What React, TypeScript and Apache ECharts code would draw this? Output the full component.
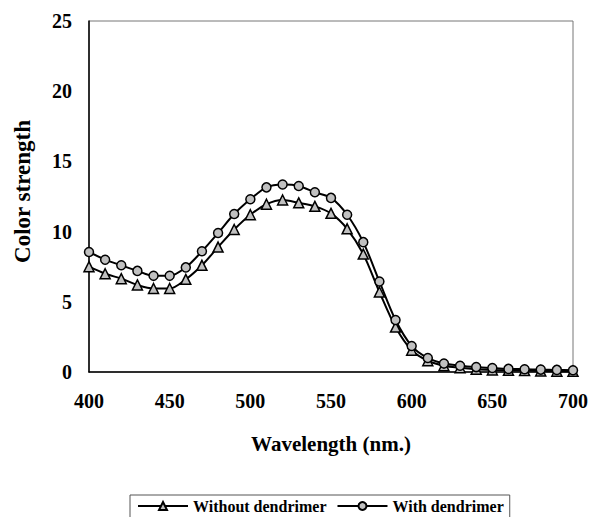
import React, { useEffect, useRef } from "react";
import * as echarts from "echarts";

const wavelengths = [400, 410, 420, 430, 440, 450, 460, 470, 480, 490, 500, 510, 520, 530, 540, 550, 560, 570, 580, 590, 600, 610, 620, 630, 640, 650, 660, 670, 680, 690, 700];
const withoutDendrimer = [7.5, 7.0, 6.65, 6.2, 5.95, 5.95, 6.6, 7.6, 8.9, 10.15, 11.2, 11.95, 12.25, 12.05, 11.8, 11.3, 10.2, 8.4, 5.7, 3.2, 1.55, 0.8, 0.45, 0.3, 0.2, 0.15, 0.12, 0.1, 0.08, 0.06, 0.05];
const withDendrimer = [8.55, 8.0, 7.6, 7.2, 6.85, 6.85, 7.45, 8.6, 9.9, 11.25, 12.3, 13.15, 13.35, 13.25, 12.8, 12.4, 11.2, 9.25, 6.45, 3.7, 1.85, 1.0, 0.6, 0.45, 0.35, 0.28, 0.22, 0.2, 0.17, 0.15, 0.12];
const seriesNames = ["Without dendrimer", "With dendrimer"];

const font = "'Liberation Serif', 'Times New Roman', serif";

export default function App() {
  const ref = useRef<HTMLDivElement>(null);
  useEffect(() => {
    if (!ref.current) return;
    const chart = echarts.init(ref.current, null, { renderer: "svg" });
    const mk = (vals: number[]) => wavelengths.map((w, i) => [w, vals[i]]);
    chart.setOption({
      animation: false,
      backgroundColor: "#ffffff",
      grid: { left: 89, right: 16, top: 21, bottom: 145, show: true, borderColor: "#777", borderWidth: 1 },
      legend: {
        top: 495,
        left: 130,
        itemGap: 10,
        itemWidth: 50,
        itemHeight: 10,
        padding: [3, 6, 12, 7],
        borderColor: "#555",
        borderWidth: 1,
        textStyle: { fontFamily: font, fontWeight: "bold", fontSize: 16, color: "#000" },
        data: seriesNames,
      },
      xAxis: {
        type: "value",
        min: 400,
        max: 700,
        interval: 50,
        name: "Wavelength (nm.)",
        nameLocation: "middle",
        nameGap: 61,
        nameTextStyle: { fontFamily: font, fontWeight: "bold", fontSize: 21, color: "#000" },
        axisLine: { lineStyle: { color: "#000", width: 1.5 } },
        axisTick: { show: false },
        splitLine: { show: false },
        axisLabel: { fontFamily: font, fontWeight: "bold", fontSize: 20, color: "#000", margin: 19 },
      },
      yAxis: {
        type: "value",
        min: 0,
        max: 25,
        interval: 5,
        name: "Color strength",
        nameLocation: "middle",
        nameGap: 55,
        nameTextStyle: { fontFamily: font, fontWeight: "bold", fontSize: 23, color: "#000", padding: [0, 0, 0, 10] },
        axisLine: { show: true, lineStyle: { color: "#000", width: 1.5 } },
        axisTick: { show: false },
        splitLine: { show: false },
        axisLabel: { fontFamily: font, fontWeight: "bold", fontSize: 20, color: "#000", margin: 17 },
      },
      series: [
        {
          name: seriesNames[0],
          type: "line",
          data: mk(withoutDendrimer),
          smooth: 0.3,
          symbol: "triangle",
          symbolSize: 10,
          lineStyle: { color: "#000", width: 2 },
          itemStyle: { color: "#c0c0c0", borderColor: "#000", borderWidth: 1.5 },
        },
        {
          name: seriesNames[1],
          type: "line",
          data: mk(withDendrimer),
          smooth: 0.3,
          symbol: "circle",
          symbolSize: 9,
          lineStyle: { color: "#000", width: 2 },
          itemStyle: { color: "#c0c0c0", borderColor: "#000", borderWidth: 1.5 },
        },
      ],
    });
    return () => chart.dispose();
  }, []);
  return <div ref={ref} style={{ width: 591, height: 517, position: "absolute", left: 0, top: 0 }} />;
}
